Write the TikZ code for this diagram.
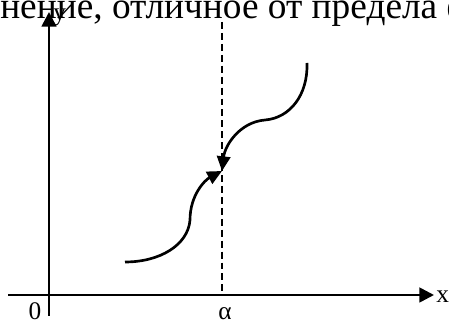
\documentclass[tikz,border=0pt]{standalone}
\usepackage{fontspec}
\setmainfont{Liberation Serif}
\usetikzlibrary{arrows.meta}
\tikzset{
  axisline/.style={line width=2pt,-{Triangle[length=11pt,width=11pt]}},
  guide/.style={line width=1.5pt,dash pattern=on 5.2pt off 3pt},
  curve/.style={line width=2pt,-{Triangle[length=11pt,width=10pt]}},
  lab/.style={font=\fontsize{19}{22}\selectfont,inner sep=0pt},
  toptext/.style={font=\fontsize{28}{32}\selectfont,inner sep=0pt},
}
\begin{document}
\begin{tikzpicture}[x=0.75pt,y=-0.75pt]
  \useasboundingbox (0,0) rectangle (449,323);
  \coordinate (xs) at (8,295);
  \coordinate (xe) at (434,295);
  \coordinate (ys) at (49,316);
  \coordinate (ye) at (49,12);
  \coordinate (dtop) at (222,22);
  \coordinate (dbot) at (222,295);
  \coordinate (lstart) at (125,262);
  \coordinate (lmid) at (190,220);
  \coordinate (ustart) at (307,63);
  \coordinate (umid) at (265,120);
  \coordinate (meet) at (222,171);
  \node[toptext,anchor=base west] (caption) at (0,19) {нение, отличное от предела ф};
  \draw[axisline] (xs) -- (xe);
  \draw[axisline] (ys) -- (ye);
  \draw[guide] (dtop) -- (dbot);
  \draw[curve] (lstart) .. controls (160,262) and (188,245) .. (lmid)
    .. controls (190,195) and (205,180) .. (meet);
  \draw[curve] (ustart) .. controls (308,95) and (290,118) .. (umid)
    .. controls (240,122) and (225,145) .. (meet);
  \node[lab,anchor=base] (zero) at (35,320) {0};
  \node[lab,anchor=base] (alpha) at (225,320) {α};
  \node[lab,anchor=base west] (xlab) at (436,303) {x};
  \node[lab,anchor=base west] (ylab) at (53,21) {y};
\end{tikzpicture}
\end{document}
